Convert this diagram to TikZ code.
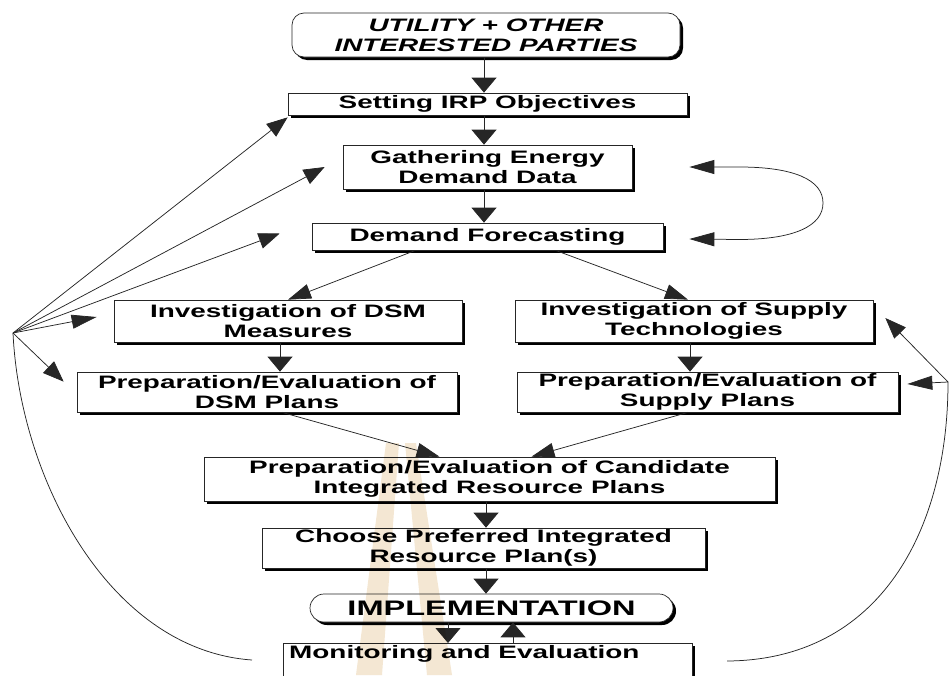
\documentclass[tikz,border=0pt]{standalone}
\usepackage{fontspec}
\setmainfont{Liberation Sans}[FakeStretch=1.55]
\usetikzlibrary{arrows.meta,shadows}

\tikzset{
  box/.style={draw=black!85, line width=0.7pt, fill=white, inner sep=1pt,
    align=center, font=\fontsize{18}{20}\selectfont\bfseries,
    drop shadow={shadow xshift=3pt, shadow yshift=-3pt, fill=black, opacity=1}},
  link/.style={line width=0.75pt, black!85},
  va/.style={link, -{Triangle[length=15pt,width=25pt]}},
  ha/.style={link, -{Triangle[length=25pt,width=14pt]}},
  da/.style={link, -{Triangle[length=21pt,width=16pt]}},
  sa/.style={link, -{Triangle[length=23pt,width=15pt]}},
  wm/.style={fill={rgb,255:red,244;green,231;blue,211}, blend mode=multiply},
}

\begin{document}
\begin{tikzpicture}[x=1pt,y=-1pt]
\useasboundingbox (0,0) rectangle (950,675);

% process boxes
\node[box, rounded corners=12pt, minimum width=388pt, minimum height=44pt,
      font=\fontsize{18}{20}\selectfont\bfseries\itshape] (util) at (486,35)
      {UTILITY + OTHER\\INTERESTED PARTIES};
\node[box, minimum width=399pt, minimum height=22pt] (obj) at (487.5,104) {Setting IRP Objectives};
\node[box, minimum width=289pt, minimum height=44pt] (gath) at (487.5,167) {Gathering Energy\\Demand Data};
\node[box, minimum width=351pt, minimum height=27pt] (fore) at (487.5,236.5) {Demand Forecasting};
\node[box, minimum width=348pt, minimum height=42pt] (invdsm) at (288,321) {Investigation of DSM\\Measures};
\node[box, minimum width=358pt, minimum height=42pt] (invsup) at (694,321) {Investigation of Supply\\Technologies};
\node[box, minimum width=380pt, minimum height=40pt] (prepdsm) at (267,392) {Preparation/Evaluation of\\DSM Plans};
\node[box, minimum width=381pt, minimum height=40pt] (prepsup) at (707.5,392) {Preparation/Evaluation of\\Supply Plans};
\node[box, minimum width=571pt, minimum height=44pt] (cand) at (489.5,479) {Preparation/Evaluation of Candidate\\Integrated Resource Plans};
\node[box, minimum width=443pt, minimum height=40pt] (choose) at (483.5,548) {Choose Preferred Integrated\\Resource Plan(s)};
\node[box, rounded corners=14pt, minimum width=363pt, minimum height=28pt,
      font=\fontsize{21}{23}\selectfont\bfseries] (impl) at (491.5,608) {IMPLEMENTATION};
\node[box, minimum width=409pt, minimum height=60pt, anchor=north] (mon) at (487.5,643) {};
\node[anchor=west, inner sep=0pt, font=\fontsize{18}{20}\selectfont\bfseries] (montext) at (289,654) {Monitoring and Evaluation};

% main downward flow
\draw[va] ([xshift=-2pt]util.south) -- ([xshift=-3.5pt]obj.north);
\draw[va] ([xshift=-3.5pt]obj.south) -- ([xshift=-3.5pt]gath.north);
\draw[va] ([xshift=-3.5pt]gath.south) -- ([xshift=-3.5pt]fore.north);
\draw[sa] ([xshift=-72pt]fore.south) -- (invdsm.north);
\draw[sa] ([xshift=68pt]fore.south) -- ([xshift=-6pt]invsup.north);
\draw[va] ([xshift=-8pt]invdsm.south) -- ([xshift=13pt]prepdsm.north);
\draw[va] ([xshift=-4pt]invsup.south) -- ([xshift=-17.5pt]prepsup.north);
\draw[sa] ([xshift=15pt]prepdsm.south) -- ([xshift=-50pt]cand.north);
\draw[sa] ([xshift=-19.5pt]prepsup.south) -- ([xshift=42pt]cand.north);
\draw[va] ([xshift=-3.5pt]cand.south) -- ([xshift=2.5pt]choose.north);
\draw[va] ([xshift=2.5pt]choose.south) -- ([xshift=-5.5pt]impl.north);
\draw[va] ([xshift=-43.5pt]impl.south) -- ([xshift=-39.5pt]mon.north);
\draw[va] ([xshift=25.5pt]mon.north) -- ([xshift=21.5pt]impl.south);

% data / forecast loop
\coordinate (ctop) at ([xshift=57pt]gath.east);
\coordinate (cbot) at ([xshift=26pt,yshift=-2.5pt]fore.east);
\draw[link, {Triangle[length=25pt,width=14pt]}-{Triangle[length=25pt,width=14pt]}]
  (ctop) -- ++(50,0) .. controls +(55,0) and (823,180) .. (823,203)
  .. controls (823,226) and (794,239.5) .. (739,239.5) -- (cbot);

% left feedback from monitoring
\coordinate (fb) at (13,333);
\coordinate (ml) at (252,660);
\draw[link] (ml) .. controls (110,650) and (20,480) .. (fb);
\draw[da] (fb) -- ([yshift=-2pt]obj.south west);
\draw[da] (fb) -- ([xshift=-18pt]gath.west);
\draw[da] (fb) -- ([xshift=-32pt,yshift=3pt]fore.west);
\draw[ha] (fb) -- ([xshift=-17pt,yshift=4pt]invdsm.west);
\draw[da] (fb) -- ([xshift=-13pt,yshift=-10pt]prepdsm.north west);

% right feedback from monitoring
\coordinate (fr) at (948,382);
\coordinate (mr) at (727,661);
\draw[link] (mr) .. controls (880,660) and (948,530) .. (fr);
\draw[ha] (fr) -- ([xshift=9pt,yshift=8pt]prepsup.east);
\draw[da] (fr) -- ([xshift=12pt,yshift=3pt]invsup.east);

% faint tower mark
\fill[wm] (386,443) -- (399,443) -- (382,675) -- (356,675) -- cycle;
\fill[wm] (405,443) -- (416,443) -- (452,675) -- (427,675) -- cycle;
\end{tikzpicture}
\end{document}
